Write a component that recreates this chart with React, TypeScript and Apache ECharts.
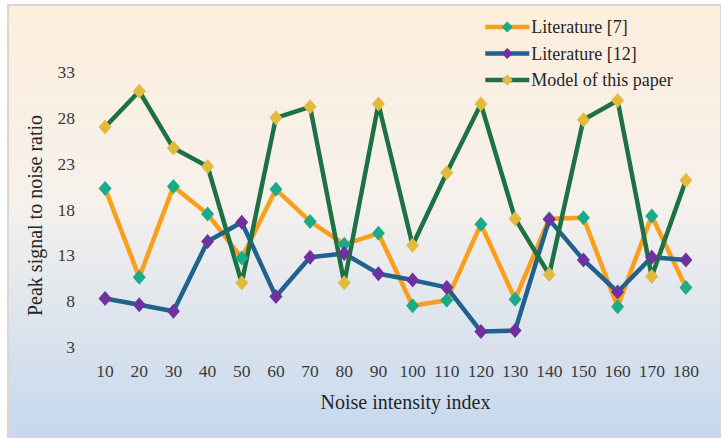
import React, { useEffect, useRef } from "react";
import * as echarts from "echarts";

const categories = ["10", "20", "30", "40", "50", "60", "70", "80", "90", "100", "110", "120", "130", "140", "150", "160", "170", "180"];
const literature7 = [20.3, 10.6, 20.5, 17.5, 12.7, 20.2, 16.7, 14.2, 15.4, 7.5, 8.1, 16.4, 8.2, 17.0, 17.1, 7.4, 17.3, 9.5];
const literature12 = [8.3, 7.6, 6.9, 14.5, 16.6, 8.5, 12.8, 13.2, 11.0, 10.3, 9.5, 4.7, 4.8, 16.9, 12.5, 9.0, 12.8, 12.5];
const modelPaper = [27.0, 30.9, 24.7, 22.7, 10.0, 28.0, 29.2, 10.0, 29.5, 14.1, 22.0, 29.5, 17.0, 10.9, 27.8, 29.9, 10.7, 21.2];
const seriesNames = ["Literature [7]", "Literature [12]", "Model of this paper"];

const FONT = "'Liberation Serif', 'Times New Roman', serif";

export default function App() {
  const ref = useRef<HTMLDivElement>(null);
  useEffect(() => {
    if (!ref.current) return;
    const chart = echarts.init(ref.current, null, { renderer: "svg" });
    const mk = (name: string, data: number[], line: string, marker: string) => ({
      name,
      type: "line",
      data,
      symbol: "diamond",
      symbolSize: [13, 15],
      showAllSymbol: true,
      lineStyle: { color: line, width: 4.5 },
      itemStyle: { color: marker, borderColor: marker, borderWidth: 0 },
      emphasis: { disabled: true },
    });
    chart.setOption({
      animation: false,
      textStyle: { fontFamily: FONT },
      graphic: [
        {
          type: "rect",
          shape: { x: 8, y: 5, width: 713, height: 433 },
          z: -10,
          style: {
            fill: new echarts.graphic.LinearGradient(0, 0, 0, 1, [
              { offset: 0, color: "#fdeedc" },
              { offset: 0.45, color: "#f6f1ec" },
              { offset: 1, color: "#c5d8ee" },
            ]),
            stroke: "#ddd7d2",
            lineWidth: 2,
          },
        },
      ],
      legend: {
        orient: "vertical",
        left: 478,
        top: 13,
        itemWidth: 44,
        itemHeight: 14,
        itemGap: 8.5,
        lineStyle: { width: 4.5 },
        textStyle: { fontFamily: FONT, fontSize: 18, color: "#262626", padding: [0, 0, 0, -3] },
        data: seriesNames,
      },
      grid: { left: 88, right: 18, top: 72, bottom: 91, containLabel: false },
      xAxis: {
        type: "category",
        data: categories,
        boundaryGap: true,
        name: "Noise intensity index",
        nameLocation: "middle",
        nameGap: 45,
        nameTextStyle: { fontFamily: FONT, fontSize: 20, color: "#262626", padding: [0, 0, 0, 20] },
        axisLine: { show: true, lineStyle: { color: "#d9d9d9", width: 1 } },
        axisTick: { show: false },
        axisLabel: { fontFamily: FONT, fontSize: 17.5, color: "#3a3a3a", margin: 15 },
        splitLine: { show: false },
      },
      yAxis: {
        type: "value",
        min: 3,
        max: 33,
        interval: 5,
        name: "Peak signal to noise ratio",
        nameLocation: "middle",
        nameGap: 43,
        nameTextStyle: { fontFamily: FONT, fontSize: 20, color: "#262626", padding: [0, 12, 0, 0] },
        axisLine: { show: false },
        axisTick: { show: false },
        axisLabel: { fontFamily: FONT, fontSize: 17.5, color: "#3a3a3a", margin: 13 },
        splitLine: { show: false },
      },
      series: [
        mk(seriesNames[0], literature7, "#f99f1b", "#1aab8b"),
        mk(seriesNames[1], literature12, "#21618d", "#7030a0"),
        mk(seriesNames[2], modelPaper, "#1e7145", "#e2bb3e"),
      ],
    });
    return () => chart.dispose();
  }, []);
  return (
    <div
      ref={ref}
      style={{ position: "absolute", left: 0, top: 0, width: 721, height: 438 }}
    />
  );
}
